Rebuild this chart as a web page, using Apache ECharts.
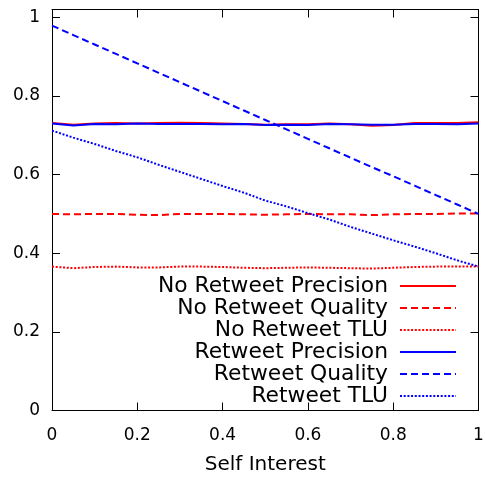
<!DOCTYPE html>
<html>
<head>
<meta charset="utf-8">
<script src="https://cdn.jsdelivr.net/npm/echarts@6/dist/echarts.min.js"></script>
<style>
  html, body { margin: 0; padding: 0; background: #fff; }
  #chart { width: 485px; height: 478px; }
</style>
</head>
<body>
<div id="chart"></div>
<script>
// Self interest sampled in steps of 0.05
const selfInterest = [0, 0.05, 0.1, 0.15, 0.2, 0.25, 0.3, 0.35, 0.4, 0.45, 0.5,
                      0.55, 0.6, 0.65, 0.7, 0.75, 0.8, 0.85, 0.9, 0.95, 1];

const noRetweetPrecision = [0.731, 0.727, 0.730, 0.731, 0.730, 0.731, 0.732, 0.731, 0.730, 0.729, 0.727,
                            0.728, 0.728, 0.730, 0.728, 0.724, 0.726, 0.731, 0.731, 0.731, 0.733];
const noRetweetQuality   = [0.500, 0.499, 0.500, 0.500, 0.498, 0.497, 0.500, 0.500, 0.500, 0.499, 0.498,
                            0.499, 0.500, 0.499, 0.499, 0.497, 0.499, 0.500, 0.500, 0.501, 0.501];
const noRetweetTLU       = [0.366, 0.362, 0.365, 0.366, 0.364, 0.364, 0.366, 0.366, 0.365, 0.363, 0.362,
                            0.363, 0.364, 0.363, 0.362, 0.361, 0.363, 0.365, 0.366, 0.366, 0.366];
const retweetPrecision   = [0.730, 0.725, 0.729, 0.728, 0.730, 0.729, 0.729, 0.729, 0.728, 0.729, 0.726,
                            0.727, 0.726, 0.729, 0.728, 0.727, 0.727, 0.729, 0.729, 0.728, 0.730];
const retweetQuality     = [0.979, 0.955, 0.931, 0.907, 0.883, 0.859, 0.835, 0.811, 0.787, 0.763, 0.739,
                            0.715, 0.691, 0.667, 0.643, 0.619, 0.596, 0.572, 0.548, 0.524, 0.500];
const retweetTLU         = [0.712, 0.694, 0.678, 0.660, 0.644, 0.625, 0.607, 0.589, 0.571, 0.554, 0.534,
                            0.519, 0.502, 0.486, 0.467, 0.450, 0.433, 0.417, 0.400, 0.382, 0.366];

const xTicks = [0, 0.2, 0.4, 0.6, 0.8, 1];
const yTicks = [0, 0.2, 0.4, 0.6, 0.8, 1];

const FONT = 'DejaVu Sans';
const RED = '#ff0000';
const BLUE = '#0000ff';
const DASH = [7, 4];
const DOT = [2, 1.7];

function pairs(ys) {
  return selfInterest.map((x, i) => [x, ys[i]]);
}

function lineSeries(name, ys, color, type) {
  return {
    name: name,
    type: 'line',
    data: pairs(ys),
    symbol: 'none',
    smooth: false,
    animation: false,
    lineStyle: { color: color, width: 2, type: type },
    itemStyle: { color: color }
  };
}

const axisCommon = {
  type: 'value',
  min: 0,
  interval: 0.2,
  axisLine: { show: true, onZero: false, lineStyle: { color: '#000', width: 1 } },
  axisTick: { show: true, inside: true, length: 8, lineStyle: { color: '#000', width: 1 } },
  splitLine: { show: false }
};

const chart = echarts.init(document.getElementById('chart'), null, { renderer: 'canvas' });

chart.setOption({
  backgroundColor: '#fff',
  animation: false,
  grid: { left: 52, right: 6.5, top: 9.5, bottom: 67.5, containLabel: false,
          outerBoundsMode: 'none' },
  xAxis: [
    Object.assign({}, axisCommon, {
      position: 'bottom',
      max: 1,
      name: 'Self Interest',
      nameLocation: 'middle',
      nameGap: 44,
      nameTextStyle: { fontFamily: FONT, fontSize: 20, color: '#000', lineHeight: 20 },
      axisLabel: {
        show: true, margin: 17, fontFamily: FONT, fontSize: 17, color: '#000',
        customValues: xTicks
      }
    }),
    Object.assign({}, axisCommon, {
      position: 'top',
      max: 1,
      axisLabel: { show: false }
    })
  ],
  yAxis: [
    Object.assign({}, axisCommon, {
      position: 'left',
      max: 1.02,
      axisLabel: {
        show: true, margin: 12, fontFamily: FONT, fontSize: 17, color: '#000',
        customValues: yTicks
      },
      axisTick: { show: true, inside: true, length: 8, customValues: yTicks,
                  lineStyle: { color: '#000', width: 1 } }
    }),
    Object.assign({}, axisCommon, {
      position: 'right',
      max: 1.02,
      axisLabel: { show: false },
      axisTick: { show: true, inside: true, length: 8, customValues: yTicks,
                  lineStyle: { color: '#000', width: 1 } }
    })
  ],
  legend: {
    orient: 'vertical',
    align: 'right',
    right: 23,
    top: 270,
    itemWidth: 56,
    itemHeight: 14,
    itemGap: 0,
    itemStyle: { opacity: 0 },
    textStyle: { fontFamily: FONT, fontSize: 21.8, color: '#000', lineHeight: 21.7,
                 padding: [0, 7, 0, 0] },
    data: ['No Retweet Precision', 'No Retweet Quality', 'No Retweet TLU',
           'Retweet Precision', 'Retweet Quality', 'Retweet TLU']
  },
  series: [
    lineSeries('No Retweet Precision', noRetweetPrecision, RED, 'solid'),
    lineSeries('No Retweet Quality', noRetweetQuality, RED, DASH),
    lineSeries('No Retweet TLU', noRetweetTLU, RED, DOT),
    lineSeries('Retweet Precision', retweetPrecision, BLUE, 'solid'),
    lineSeries('Retweet Quality', retweetQuality, BLUE, DASH),
    lineSeries('Retweet TLU', retweetTLU, BLUE, DOT)
  ]
});
</script>
</body>
</html>
